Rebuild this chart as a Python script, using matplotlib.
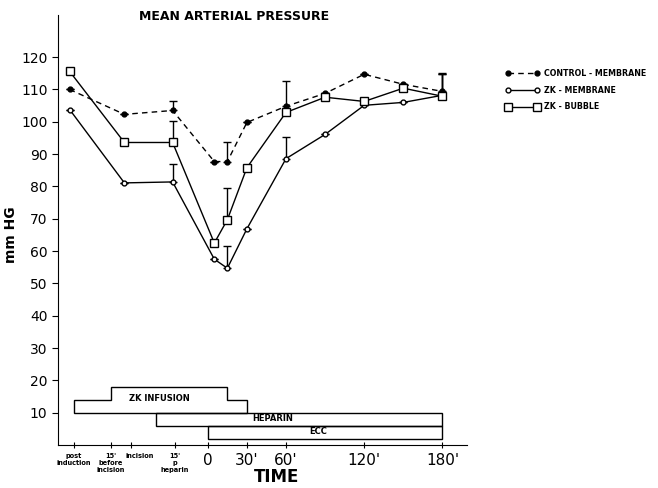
import matplotlib
matplotlib.use("Agg")
import matplotlib.pyplot as plt
from matplotlib.patches import Polygon, Rectangle
from matplotlib.transforms import ScaledTranslation

# x positions: before 0 the axis is a sequence of events, after 0 it is minutes
time_pos = [-106, -64, -27, 5, 15, 30, 60, 90, 120, 150, 180]

control = [110, 102.3, 103.5, 87.7, 87.7, 99.8, 104.8, 108.8, 114.7, 111.6, 109.4]
control_err = [0, 0, 2.8, 0, 6.2, 0, 7.7, 0, 0, 0, 5.6]

zk_membrane = [103.8, 81.1, 81.4, 57.5, 54.7, 66.9, 88.6, 96.1, 105.1, 106, 108.2]
zk_membrane_err = [0, 0, 5.4, 0, 6.9, 0, 6.8, 0, 0, 0, 6.5]

zk_bubble = [115.6, 93.6, 93.6, 62.5, 69.7, 85.8, 102.9, 107.6, 106.3, 110.4, 107.9]
zk_bubble_err = [0, 0, 6.5, 0, 9.9, 0, 0, 0, 0, 0, 7]

tick_pos = [-103, -74.6, -59, -25.4, 0, 30, 60, 120, 180]
tick_labels = ["post\ninduction", "15'\nbefore\nincision", "incision", "15'\np\nheparin",
               "0", "30'", "60'", "120'", "180'"]

# timeline bars
zk_infusion = [(-103, 10), (-103, 14), (-74.6, 14), (-74.6, 18), (15, 18), (15, 14), (30, 14), (30, 10)]
heparin = (-39.5, 180, 6, 10)
ecc = (0, 180, 2, 6)

fig = plt.figure(figsize=(6.58, 4.88), dpi=100)
ax = fig.add_axes([0.088, 0.088, 0.622, 0.881])

def series(y, err, marker, face, ls, ms, label):
    ax.errorbar(time_pos, y, yerr=[[0] * len(err), err], fmt="none", ecolor="black",
                elinewidth=1, capsize=3, capthick=1)
    ax.plot(time_pos, y, color="black", lw=1, ls=ls, marker=marker, ms=ms,
            mfc=face, mec="black", mew=1, label=label, zorder=3)

series(control, control_err, "o", "black", (0, (4, 3)), 3.5, "CONTROL - MEMBRANE")
series(zk_membrane, zk_membrane_err, "o", "white", "-", 3.5, "ZK - MEMBRANE")
series(zk_bubble, zk_bubble_err, "s", "white", "-", 6, "ZK - BUBBLE")

ax.add_patch(Polygon(zk_infusion, closed=True, fill=False, ec="black", lw=1))
ax.add_patch(Rectangle((heparin[0], heparin[2]), heparin[1] - heparin[0], heparin[3] - heparin[2],
                       fill=False, ec="black", lw=1))
ax.add_patch(Rectangle((ecc[0], ecc[2]), ecc[1] - ecc[0], ecc[3] - ecc[2],
                       fill=False, ec="black", lw=1))
ax.text(-37, 14.3, "ZK INFUSION", fontsize=6, fontweight="bold", ha="center", va="center")
ax.text(50, 8.2, "HEPARIN", fontsize=6, fontweight="bold", ha="center", va="center")
ax.text(85, 4.2, "ECC", fontsize=6, fontweight="bold", ha="center", va="center")

ax.set_xlim(-115, 199)
ax.set_ylim(0, 133)
ax.spines["top"].set_visible(False)
ax.spines["right"].set_visible(False)
ax.set_yticks(range(10, 130, 10))
ax.tick_params(axis="y", labelsize=10, length=4)
ax.set_xticks(tick_pos)
ax.set_xticklabels(tick_labels)
ax.tick_params(axis="x", direction="inout", length=5)
for i, t in enumerate(ax.get_xticklabels()):
    if i < 4:
        t.set_fontsize(4.8)
        t.set_fontweight("bold")
    else:
        t.set_fontsize(11)
# "incision" sits a little right of its tick in the original
lab = ax.get_xticklabels()[2]
lab.set_transform(lab.get_transform() + ScaledTranslation(0.09, 0, fig.dpi_scale_trans))

ax.set_ylabel("mm HG", fontsize=10, fontweight="bold")
ax.yaxis.set_label_coords(-0.098, 0.49)
ax.set_xlabel("TIME", fontsize=12, fontweight="bold")
ax.xaxis.set_label_coords(0.535, -0.053)
fig.text(234 / 658, 1 - 17 / 488, "MEAN ARTERIAL PRESSURE", fontsize=9, fontweight="bold",
         ha="center", va="center")

ax.legend(loc="upper left", bbox_to_anchor=(0.758, 0.874), bbox_transform=fig.transFigure,
          frameon=False, numpoints=2, prop={"size": 5.7, "weight": "bold"},
          handlelength=4.2, handletextpad=0.6, labelspacing=1.0)

fig.savefig("out.png", dpi=100)
